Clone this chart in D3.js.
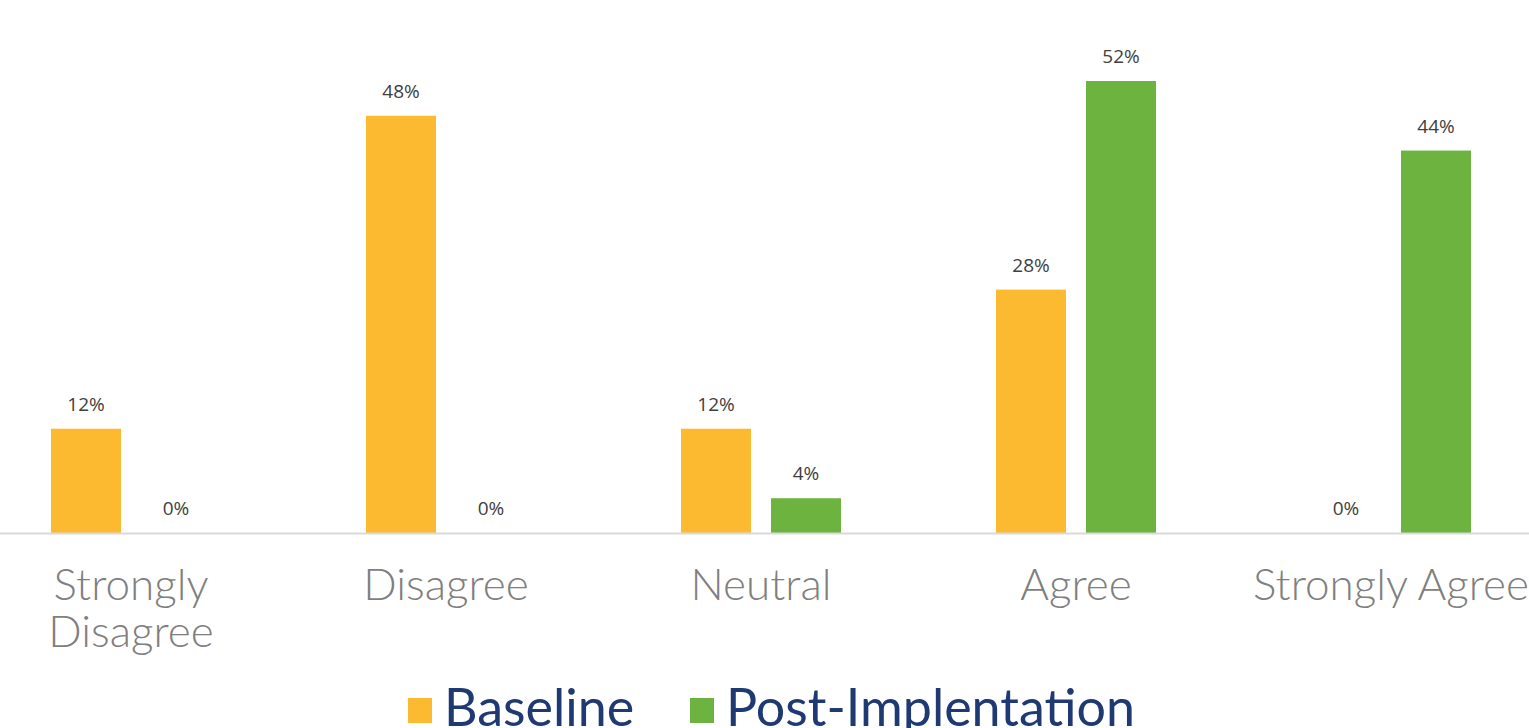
<!DOCTYPE html>
<html>
<head>
<meta charset="utf-8">
<script src="https://cdn.jsdelivr.net/npm/d3@7"></script>
<style>
  body { margin: 0; background: #fff; overflow: hidden; }
  svg { display: block; }
</style>
</head>
<body>
<div id="chart"></div>
<script>
const categories = ["Strongly Disagree", "Disagree", "Neutral", "Agree", "Strongly Agree"];
const seriesNames = ["Baseline", "Post-Implentation"];
const baseline = [0.12, 0.48, 0.12, 0.28, 0];
const postImpl = [0, 0, 0.04, 0.52, 0.44];
const colors = ["#FBBA2F", "#6DB33F"];

const width = 1529, height = 728;
const baseY = 533;

const svg = d3.select("#chart").append("svg")
    .attr("width", width)
    .attr("height", height);

const x = d3.scaleBand()
    .domain(categories)
    .range([-26.5, 1548.5]);

// two bars of 70px with a 20px gap inside each category
const xInner = d3.scaleBand()
    .domain(seriesNames)
    .range([0, 160])
    .paddingInner(2 / 9);

const y = d3.scaleLinear()
    .domain([0, 0.52])
    .range([baseY, 81]);

const rows = categories.map((c, i) => ({ cat: c, vals: [baseline[i], postImpl[i]] }));

const groups = svg.append("g")
    .selectAll("g")
    .data(rows)
    .join("g")
    .attr("transform", d => `translate(${x(d.cat) + x.bandwidth() / 2 - 80},0)`);

groups.selectAll("rect")
    .data(d => d.vals.map((v, j) => ({ v, s: seriesNames[j], j })))
    .join("rect")
    .attr("x", d => xInner(d.s))
    .attr("width", xInner.bandwidth())
    .attr("y", d => y(d.v))
    .attr("height", d => baseY - y(d.v))
    .attr("fill", d => colors[d.j]);

groups.selectAll("text")
    .data(d => d.vals.map((v, j) => ({ v, s: seriesNames[j], j })))
    .join("text")
    .attr("x", d => xInner(d.s) + xInner.bandwidth() / 2)
    .attr("y", d => y(d.v) - 18)
    .attr("text-anchor", "middle")
    .attr("font-family", "'Open Sans', 'Liberation Sans', sans-serif")
    .attr("font-size", 19)
    .attr("fill", "#404040")
    .text(d => d3.format(".0%")(d.v));

// axis line
svg.append("line")
    .attr("x1", 0).attr("x2", width)
    .attr("y1", baseY + 0.5).attr("y2", baseY + 0.5)
    .attr("stroke", "#d9d9d9")
    .attr("stroke-width", 2);

// category labels, wrapped like the original
const labelLines = {
  "Strongly Disagree": ["Strongly", "Disagree"],
  "Disagree": ["Disagree"],
  "Neutral": ["Neutral"],
  "Agree": ["Agree"],
  "Strongly Agree": ["Strongly Agree"]
};

svg.append("g")
    .selectAll("text")
    .data(categories)
    .join("text")
    .attr("x", d => x(d) + x.bandwidth() / 2)
    .attr("y", 600)
    .attr("text-anchor", "middle")
    .attr("font-family", "Lato, 'Open Sans', sans-serif")
    .attr("font-weight", 300)
    .attr("font-size", 44)
    .attr("fill", "#7f7f7f")
    .each(function (d) {
      const t = d3.select(this);
      labelLines[d].forEach((ln, i) => {
        t.append("tspan")
          .attr("x", x(d) + x.bandwidth() / 2)
          .attr("dy", i === 0 ? 0 : 47)
          .text(ln);
      });
    });

// legend
const legendX = [408, 690];
const legend = svg.append("g")
    .selectAll("g")
    .data(seriesNames)
    .join("g")
    .attr("transform", (d, i) => `translate(${legendX[i]},698)`);

legend.append("rect")
    .attr("width", 24)
    .attr("height", 25)
    .attr("fill", (d, i) => colors[i]);

legend.append("text")
    .attr("x", 36)
    .attr("y", 28)
    .attr("font-family", "Lato, 'Open Sans', sans-serif")
    .attr("font-size", 52)
    .attr("fill", "#1F3A73")
    .text(d => d);
</script>
</body>
</html>
